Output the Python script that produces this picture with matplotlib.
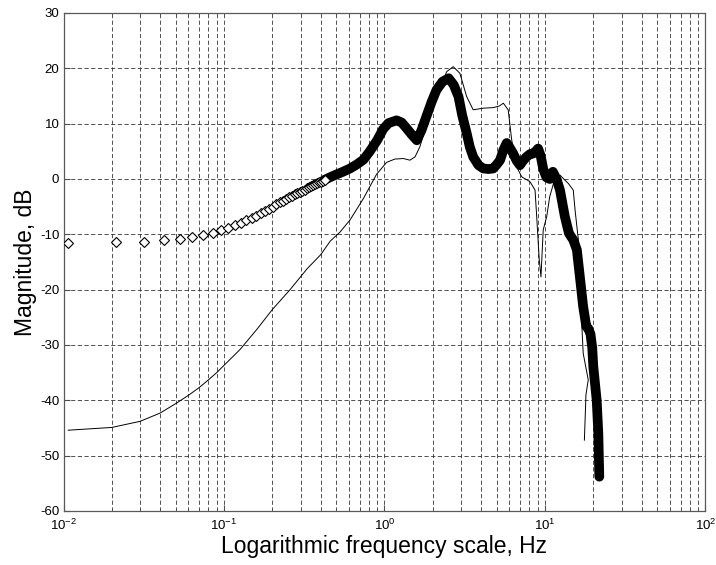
#!/usr/bin/env python3
"""Magnitude vs log frequency: measured diamonds band + thin model curve."""

import matplotlib

matplotlib.use("Agg")
import matplotlib.pyplot as plt
from matplotlib.ticker import FixedLocator, LogLocator, NullFormatter

plt.rcParams["font.family"] = ["Liberation Sans", "DejaVu Sans"]
plt.rcParams["axes.unicode_minus"] = False
plt.rcParams["mathtext.default"] = "regular"

# Low-frequency diamonds (individually visible), Hz / dB
DIAMOND_F = [
    0.0106, 0.0212, 0.0318, 0.0424, 0.053, 0.0636, 0.0742, 0.0848, 0.0954, 0.106,
    0.1166, 0.1272, 0.1378, 0.1484, 0.159, 0.1696, 0.1802, 0.1908, 0.2014, 0.212,
    0.2226, 0.2332, 0.2438, 0.2544, 0.265, 0.2756, 0.2862, 0.2968, 0.3074, 0.318,
    0.3286, 0.3392, 0.3498, 0.3604, 0.371, 0.3816, 0.3922, 0.4028, 0.4134, 0.424,
]
DIAMOND_DB = [
    -11.6, -11.4, -11.3, -11.1, -10.8, -10.5, -10.1, -9.7, -9.3, -8.8,
    -8.3, -7.9, -7.5, -7.0, -6.6, -6.2, -5.8, -5.4, -5.0, -4.6,
    -4.2, -3.9, -3.6, -3.3, -3.0, -2.7, -2.5, -2.3, -2.1, -1.9,
    -1.7, -1.5, -1.3, -1.1, -0.9, -0.8, -0.6, -0.5, -0.3, -0.2,
]

# Dense part of the diamond series (markers merge into a solid band), Hz / dB
BAND_F = [
    0.42, 0.457, 0.5, 0.55, 0.61, 0.67, 0.74, 0.81, 0.9, 0.98,
    1.06, 1.19, 1.28, 1.37, 1.48, 1.59, 1.7, 1.84, 1.97, 2.11,
    2.3, 2.51, 2.7, 2.89, 3.05, 3.25, 3.4, 3.57, 3.85, 4.13,
    4.45, 4.76, 5.0, 5.25, 5.5, 5.77, 6.05, 6.34, 6.66, 6.98,
    7.3, 7.67, 8.07, 8.43, 8.75, 9.06, 9.4, 9.75, 10.2, 10.7,
    11.2, 11.8, 12.4, 13.3, 14.1, 14.6, 15.0, 15.8, 16.5, 17.3,
    18.1, 18.6, 19.2, 19.7, 20.0, 21.0, 21.5, 21.8,
]
BAND_DB = [
    -0.2, 0.3, 0.8, 1.3, 1.9, 2.6, 3.5, 5.0, 7.0, 9.0,
    10.1, 10.6, 10.2, 9.2, 8.0, 7.0, 8.8, 11.6, 14.0, 16.1,
    17.6, 18.2, 17.0, 14.9, 11.5, 8.3, 5.8, 4.0, 2.5, 1.9,
    1.8, 1.9, 2.6, 3.4, 5.2, 6.5, 5.6, 4.6, 3.3, 2.5,
    3.3, 4.0, 4.5, 4.6, 5.0, 5.5, 4.2, 1.8, 0.3, 0.0,
    1.3, 0.0, -2.0, -6.8, -9.8, -10.5, -11.0, -12.8, -17.7, -23.1,
    -26.7, -27.0, -28.0, -30.5, -33.9, -40.0, -46.0, -53.8,
]

# Thin curve, Hz / dB
LINE_F = [
    0.0107, 0.02, 0.03, 0.04, 0.05, 0.06, 0.07, 0.08, 0.09, 0.126,
    0.16, 0.2, 0.258, 0.33, 0.4, 0.46, 0.528, 0.61, 0.74, 0.89,
    1.03, 1.16, 1.31, 1.44, 1.55, 1.66, 1.87, 2.11, 2.44, 2.68,
    2.95, 3.25, 3.57, 4.13, 4.76, 5.2, 5.5, 5.9, 6.2, 6.66,
    7.16, 8.07, 8.67, 8.88, 9.21, 9.44, 9.75, 10.25, 10.7, 11.3,
    12.4, 13.3, 13.97, 15.0, 15.4, 15.8, 16.3, 16.8, 17.0, 17.3,
    18.6, 18.0, 17.6,
]
LINE_DB = [
    -45.4, -44.9, -43.8, -42.3, -40.6, -39.1, -37.7, -36.3, -35.0, -30.8,
    -27.2, -23.6, -20.0, -16.2, -13.7, -11.2, -9.6, -7.4, -3.5, 0.8,
    3.0, 3.6, 3.7, 3.4, 4.0, 5.8, 10.7, 14.9, 19.4, 20.3,
    19.1, 14.9, 12.5, 12.8, 12.9, 13.2, 13.7, 12.5, 7.1, 2.2,
    0.4, -0.5, -2.0, -6.8, -14.6, -17.7, -9.2, -6.8, -3.2, -0.8,
    0.7, -0.2, -0.8, -2.0, -5.6, -8.6, -12.0, -20.0, -27.0, -31.5,
    -36.3, -39.0, -47.2,
]

Y_TICKS = [-60, -50, -40, -30, -20, -10, 0, 10, 20, 30]
X_LIM = (1e-2, 1e2)
Y_LIM = (-60, 30)

GRID_KW = {"color": "0.2", "linewidth": 0.6, "linestyle": (0, (5, 3))}


def main() -> None:
    fig = plt.figure(figsize=(7.16, 5.65), dpi=100)
    ax = fig.add_axes([0.0887, 0.0956, 0.8966, 0.8814])

    ax.plot(LINE_F, LINE_DB, color="black", linewidth=0.7, zorder=3)
    ax.plot(BAND_F, BAND_DB, color="black", linewidth=7, solid_capstyle="round",
            solid_joinstyle="round", zorder=4)
    ax.plot(DIAMOND_F, DIAMOND_DB, linestyle="none", marker="D", markersize=4.8,
            markerfacecolor="white", markeredgecolor="black", markeredgewidth=0.8,
            zorder=5)

    ax.set_xscale("log")
    ax.set_xlim(*X_LIM)
    ax.set_ylim(*Y_LIM)
    ax.yaxis.set_major_locator(FixedLocator(Y_TICKS))
    ax.xaxis.set_major_locator(LogLocator(base=10, numticks=10))
    ax.xaxis.set_minor_locator(LogLocator(base=10, subs=range(2, 10), numticks=10))
    ax.xaxis.set_minor_formatter(NullFormatter())

    ax.grid(True, which="major", axis="both", **GRID_KW)
    ax.grid(True, which="minor", axis="x", **GRID_KW)
    ax.set_axisbelow(True)

    ax.tick_params(which="both", direction="in", labelsize=9.5, color="0.3")
    ax.tick_params(which="major", length=4)
    ax.tick_params(which="minor", length=2)
    ax.tick_params(axis="x", pad=5)
    ax.tick_params(axis="y", pad=3)
    for side in ax.spines.values():
        side.set_color("0.35")
        side.set_linewidth(0.9)

    ax.set_xlabel("Logarithmic frequency scale, Hz", fontsize=16.5, labelpad=1)
    ax.set_ylabel("Magnitude, dB", fontsize=16.5, labelpad=2)

    fig.savefig("out.png", dpi=100)
    plt.close(fig)


if __name__ == "__main__":
    main()
